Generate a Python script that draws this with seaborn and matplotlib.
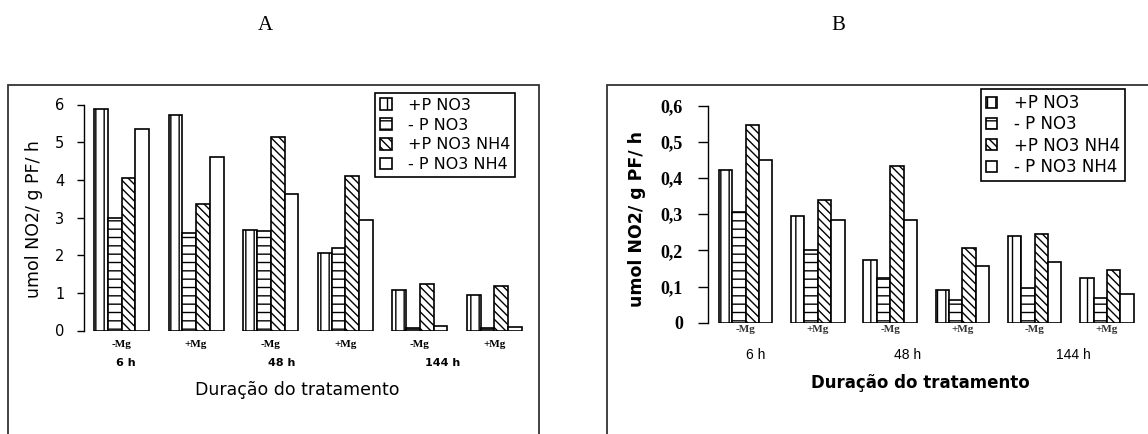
import matplotlib
matplotlib.use("Agg")
import matplotlib.pyplot as plt
import matplotlib.transforms as mtransforms
from matplotlib.patches import Patch, Rectangle
import pandas as pd
import seaborn as sns

# --- data -------------------------------------------------------------
conditions = ["-Mg", "+Mg", "-Mg", "+Mg", "-Mg", "+Mg"]
durations = ["6 h", "48 h", "144 h"]
treatments = ["+P NO3", "- P NO3", "+P NO3 NH4", "- P NO3 NH4"]

# panel A: umol NO2 / g PF / h
a_p_no3 = [5.87, 5.72, 2.67, 2.07, 1.07, 0.95]
a_mp_no3 = [3.00, 2.58, 2.64, 2.18, 0.07, 0.07]
a_p_no3nh4 = [4.04, 3.36, 5.13, 4.11, 1.23, 1.18]
a_mp_no3nh4 = [5.35, 4.60, 3.63, 2.93, 0.11, 0.10]

# panel B: umol NO2 / g PF / h
b_p_no3 = [0.422, 0.295, 0.173, 0.090, 0.240, 0.123]
b_mp_no3 = [0.305, 0.201, 0.123, 0.063, 0.097, 0.069]
b_p_no3nh4 = [0.548, 0.339, 0.433, 0.206, 0.245, 0.146]
b_mp_no3nh4 = [0.450, 0.284, 0.284, 0.157, 0.167, 0.078]

a_yticks = [0, 1, 2, 3, 4, 5, 6]
b_yticks = [0, 0.1, 0.2, 0.3, 0.4, 0.5, 0.6]
b_yticklabels = ["0", "0,1", "0,2", "0,3", "0,4", "0,5", "0,6"]

hatches = ["||", "--", "\\\\\\\\", ""]


def long_table(series):
    rows = []
    for name, values in zip(treatments, series):
        for i, v in enumerate(values):
            rows.append({"grupo": f"g{i}", "tratamento": name, "valor": v})
    return pd.DataFrame(rows)


df_a = long_table([a_p_no3, a_mp_no3, a_p_no3nh4, a_mp_no3nh4])
df_b = long_table([b_p_no3, b_mp_no3, b_p_no3nh4, b_mp_no3nh4])
group_order = [f"g{i}" for i in range(len(conditions))]

# --- figure -----------------------------------------------------------
W, H = 1148, 434
sns.set_theme(style="white")
plt.rcParams["font.family"] = ["DejaVu Sans"]
plt.rcParams["hatch.linewidth"] = 1.0
plt.rcParams["hatch.color"] = "black"
for key in ("text.color", "axes.labelcolor", "xtick.color", "ytick.color"):
    plt.rcParams[key] = "black"

fig = plt.figure(figsize=(W / 100, H / 100), dpi=100)
fig.patch.set_facecolor("white")


def px_axes(left, right, top, bottom):
    return fig.add_axes([left / W, 1 - bottom / H, (right - left) / W, (bottom - top) / H])


def draw_bars(ax, df):
    sns.barplot(data=df, x="grupo", y="valor", hue="tratamento",
                order=group_order, hue_order=treatments,
                palette=["white"] * 4, saturation=1, edgecolor="black",
                linewidth=1.2, width=0.74, gap=0, errorbar=None,
                legend=False, ax=ax)
    for cont, h in zip(ax.containers, hatches):
        for bar in cont:
            bar.set_hatch(h)
    ax.set_facecolor("white")
    for s in ("top", "right", "bottom"):
        ax.spines[s].set_visible(False)
    ax.spines["left"].set_color("black")
    ax.spines["left"].set_linewidth(1.0)
    ax.set_xlabel("")
    ax.set_ylabel("")


def legend_handles():
    return [Patch(facecolor="white", edgecolor="black", hatch=h, linewidth=1.2)
            for h in hatches]


# outer frames
fig.add_artist(Rectangle((8 / W, -0.2), (539 - 8) / W, 1.2 - 85 / H,
                         transform=fig.transFigure, fill=False,
                         edgecolor="#333333", linewidth=1.3))
fig.add_artist(Rectangle((607 / W, -0.2), 0.6, 1.2 - 85 / H,
                         transform=fig.transFigure, fill=False,
                         edgecolor="#333333", linewidth=1.3))

fig.text(265 / W, 1 - 25 / H, "A", ha="center", va="center",
         family="Liberation Serif", fontsize=15)
fig.text(838 / W, 1 - 25 / H, "B", ha="center", va="center",
         family="Liberation Serif", fontsize=15)

# --- panel A ----------------------------------------------------------
ax_a = px_axes(84, 530, 104.5, 330.5)
draw_bars(ax_a, df_a)
ax_a.set_xlim(-0.503, 5.476)
ax_a.set_ylim(0, 6)
ax_a.set_yticks(a_yticks)
ax_a.set_yticklabels([str(t) for t in a_yticks], fontsize=10.5)
ax_a.tick_params(axis="y", left=True, length=5, width=1.0, pad=9, color="black")
ax_a.set_xticks(range(len(conditions)))
ax_a.set_xticklabels(conditions, family="Liberation Serif", fontweight="bold",
                     fontsize=8)
ax_a.tick_params(axis="x", length=0, pad=7)
fig.text(34 / W, 1 - 219 / H, "umol NO2/ g PF/ h", rotation=90,
         ha="center", va="center", fontsize=12.5)
tr_a = mtransforms.blended_transform_factory(ax_a.transData, fig.transFigure)
for xpos, lab in zip([0.06, 2.15, 4.31], durations):
    ax_a.text(xpos, 1 - 363 / H, lab, transform=tr_a, ha="center",
              va="center", fontsize=8, fontweight="bold")
fig.text(297 / W, 1 - 390 / H, "Duração do tratamento", ha="center",
         va="center", fontsize=12.5)
ax_a.legend(legend_handles(), treatments, loc="upper left",
            bbox_to_anchor=(375 / W, 1 - 93 / H), bbox_transform=fig.transFigure,
            frameon=True, fancybox=False, edgecolor="black", framealpha=1,
            fontsize=11.5, handlelength=0.75, handleheight=0.75,
            handletextpad=1.0, borderpad=0.3, labelspacing=0.3,
            borderaxespad=0).get_frame().set_linewidth(1.2)

# --- panel B ----------------------------------------------------------
ax_b = px_axes(708, 1140, 105.7, 322.7)
draw_bars(ax_b, df_b)
ax_b.set_xlim(-0.519, 5.456)
ax_b.set_ylim(0, 0.6)
ax_b.set_yticks(b_yticks)
ax_b.set_yticklabels(b_yticklabels, family="Liberation Serif",
                     fontweight="bold", fontsize=13)
ax_b.tick_params(axis="y", left=True, length=7, width=1.0, pad=11, color="black")
ax_b.set_xticks(range(len(conditions)))
ax_b.set_xticklabels(conditions, family="Liberation Serif", fontweight="bold",
                     fontsize=8, color="#333333")
ax_b.tick_params(axis="x", length=0, pad=2)
fig.text(637 / W, 1 - 219 / H, "umol NO2/ g PF/ h", rotation=90,
         ha="center", va="center", fontsize=12.5, fontweight="bold")
tr_b = mtransforms.blended_transform_factory(ax_b.transData, fig.transFigure)
for xpos, lab in zip([0.14, 2.24, 4.53], durations):
    ax_b.text(xpos, 1 - 355 / H, lab, transform=tr_b, ha="center",
              va="center", fontsize=10, family="Liberation Sans")
fig.text(920 / W, 1 - 383 / H, "Duração do tratamento", ha="center",
         va="center", fontsize=12, fontweight="bold")
ax_b.legend(legend_handles(), treatments, loc="upper left",
            bbox_to_anchor=(981 / W, 1 - 89 / H), bbox_transform=fig.transFigure,
            frameon=True, fancybox=False, edgecolor="black", framealpha=1,
            fontsize=12, handlelength=0.65, handleheight=0.65,
            handletextpad=1.0, borderpad=0.3, labelspacing=0.2,
            borderaxespad=0).get_frame().set_linewidth(1.2)

fig.savefig("out.png", dpi=100, facecolor="white")
